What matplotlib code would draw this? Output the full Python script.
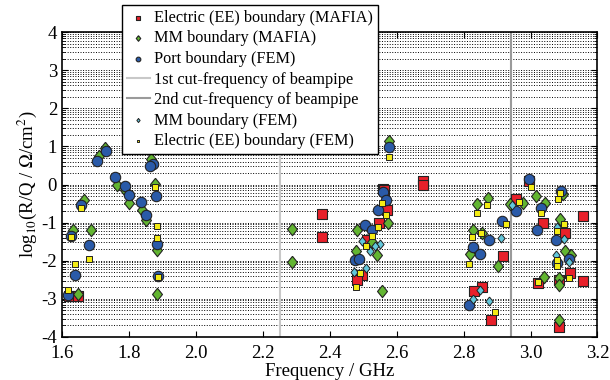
import numpy as np
import matplotlib
matplotlib.use('Agg')
import matplotlib.pyplot as plt
from matplotlib.ticker import FixedLocator, MultipleLocator

plt.rcParams['font.family'] = ['Liberation Serif', 'DejaVu Serif']
plt.rcParams['mathtext.fontset'] = 'stix'
plt.rcParams['axes.unicode_minus'] = False

# Electric (EE) boundary (MAFIA)
ee_mafia_x = [1.622, 1.648, 2.376, 2.376, 2.56, 2.562, 2.572, 2.548, 2.51, 2.495, 2.482,
              2.68, 2.68, 2.958, 2.996, 3.158, 3.036, 2.917, 3.118, 3.158, 3.023,
              2.854, 2.831, 2.881, 3.085, 3.103, 3.085]
ee_mafia_y = [-2.92, -2.92, -0.77, -1.38, -0.11, -0.15, -0.68, -1.01, -1.45, -2.37, -2.51,
              0.10, -0.02, -0.37, 0.10, -0.84, -1.01, -1.87, -2.32, -2.54, -2.58,
              -2.69, -2.80, -3.57, -3.75, -1.27, -2.52]

# MM boundary (MAFIA)
mm_mafia_x = [1.73, 1.71, 1.867, 1.764, 1.787, 1.799, 1.838, 1.852, 1.879, 1.665, 1.634,
              1.686, 1.884, 1.649, 1.884,
              2.287, 2.287, 2.578, 2.575, 2.48, 2.478, 2.542, 2.557, 2.525,
              2.874, 2.841, 2.938, 2.978, 3.015, 3.043, 3.098, 3.088, 2.827, 2.854,
              2.819, 2.904, 3.103, 3.12, 3.04, 3.085, 3.085, 3.085]
mm_mafia_y = [0.95, 0.74, 0.68, -0.02, -0.15, -0.49, -0.68, -0.94, 0.02, -0.42, -1.2,
              -1.2, -1.73, -2.87, -2.87,
              -1.17, -2.04, 1.14, -1.01, -1.20, -1.75, -1.86, -2.81, -1.51,
              -0.35, -0.52, -0.50, -0.49, -0.30, -0.49, -0.26, -0.90, -1.20, -1.27,
              -1.82, -2.15, -1.75, -1.86, -2.43, -2.45, -2.65, -3.55]

# Port boundary (FEM)
port_fem_x = [1.732, 1.705, 1.871, 1.864, 1.759, 1.787, 1.799, 1.836, 1.852, 1.881, 1.657,
              1.626, 1.681, 1.885, 1.639, 1.887, 1.619,
              2.578, 2.558, 2.568, 2.543, 2.505, 2.525, 2.475, 2.488,
              2.996, 3.09, 2.958, 3.03, 2.916, 3.02, 2.877, 3.076, 2.829, 2.849,
              3.078, 3.116, 2.817]
port_fem_y = [0.89, 0.62, 0.55, 0.48, 0.20, -0.04, -0.28, -0.46, -0.81, -0.31, -0.55,
              -1.36, -1.60, -1.56, -2.39, -2.41, -2.90,
              0.99, -0.20, -0.40, -0.66, -1.07, -1.20, -1.99, -1.97,
              0.14, -0.18, -0.70, -0.63, -0.97, -1.20, -1.47, -1.47, -1.64, -1.83,
              -2.06, -1.95, -3.16]

# cut-off frequencies of beampipe
cut1_freq = 2.251
cut2_freq = 2.942

# MM boundary (FEM)
mm_fem_x = [2.495, 2.55, 2.535, 2.52, 2.507, 2.473,
            2.912, 3.078, 3.1, 3.116, 2.946, 2.829, 2.849, 2.877, 3.076]
mm_fem_y = [-1.49, -1.57, -1.62, -1.76, -2.2, -2.30,
            -1.40, -1.12, -1.42, -2.04, -0.55, -3.0, -2.78, -3.06, -1.86]

# Electric (EE) boundary (FEM)
ee_fem_x = [1.879, 1.658, 1.627, 1.883, 1.883, 1.681, 1.639, 1.887, 1.619,
            2.578, 2.557, 2.567, 2.543, 2.525, 2.507, 2.49, 2.477,
            3.001, 3.088, 3.083, 2.965, 2.869, 2.839, 3.031, 2.927, 3.1, 3.078,
            2.852, 2.826, 2.816, 3.078, 3.078, 3.116, 3.023, 2.894]
ee_fem_y = [-0.07, -0.62, -1.37, -1.09, -1.40, -1.95, -2.08, -2.43, -2.78,
            0.73, -0.49, -0.80, -1.12, -1.35, -1.62, -2.33, -2.69,
            -0.07, -0.22, -0.37, -0.46, -0.55, -0.74, -0.75, -1.05, -1.05, -1.22,
            -1.27, -1.38, -2.08, -1.99, -2.14, -2.46, -2.56, -3.35]

diamond = [(0, 1), (0.8, 0), (0, -1), (-0.8, 0), (0, 1)]
edge = '#222222'

fig = plt.figure(figsize=(6.1, 3.8), dpi=100)
ax = fig.add_axes([0.1016, 0.1139, 0.8779, 0.8011])

ax.scatter(ee_mafia_x, ee_mafia_y, marker='s', s=46, c='#e8202a', edgecolors=edge,
           linewidths=0.8, zorder=3, label='Electric (EE) boundary (MAFIA)')
ax.scatter(mm_mafia_x, mm_mafia_y, marker=diamond, s=80, c='#62b531', edgecolors=edge,
           linewidths=0.8, zorder=4, label='MM boundary (MAFIA)')
ax.scatter(port_fem_x, port_fem_y, marker='o', s=56, c='#2a5aa8', edgecolors=edge,
           linewidths=0.8, zorder=5, label='Port boundary (FEM)')
ax.axvline(cut1_freq, color='#c8c8c8', lw=1.5, zorder=2, label='1st cut-frequency of beampipe')
ax.axvline(cut2_freq, color='#9a9a9a', lw=1.5, zorder=2, label='2nd cut-frequency of beampipe')
ax.scatter(mm_fem_x, mm_fem_y, marker=diamond, s=42, c='#62c8dc', edgecolors=edge,
           linewidths=0.7, zorder=6, label='MM boundary (FEM)')
ax.scatter(ee_fem_x, ee_fem_y, marker='s', s=22, c='#f4ec14', edgecolors=edge,
           linewidths=0.7, zorder=7, label='Electric (EE) boundary (FEM)')

ax.set_xlim(1.6, 3.2)
ax.set_ylim(-4, 4)
ax.xaxis.set_major_locator(MultipleLocator(0.2))
ax.yaxis.set_major_locator(MultipleLocator(1))
ax.set_xticklabels([f'{v:.1f}' for v in ax.get_xticks()])
minor = [n + np.log10(k) for n in range(-4, 4) for k in range(2, 10)]
ax.yaxis.set_minor_locator(FixedLocator(minor))
ax.grid(axis='y', which='both', linestyle=':', color='black', linewidth=0.7, zorder=1)
ax.tick_params(which='both', direction='in', top=True, right=True, labelsize=13.5)
ax.tick_params(axis='x', pad=6)
ax.tick_params(which='major', length=4)
ax.tick_params(which='minor', length=2)
for sp in ax.spines.values():
    sp.set_linewidth(1.2)

ax.set_xlabel('Frequency / GHz', fontsize=13.5, labelpad=1)
ax.set_ylabel(r'log$_{10}$(R/Q / $\Omega$/cm$^2$)', fontsize=13.5, labelpad=2)

leg = ax.legend(loc='upper left', bbox_to_anchor=(122 / 610, 1 - 5 / 380),
                bbox_transform=fig.transFigure, fontsize=11.7, markerscale=0.45,
                handlelength=1.4, handletextpad=0.3, labelspacing=0.28,
                borderpad=0.3, borderaxespad=0, fancybox=False, framealpha=1,
                edgecolor='black')
leg.get_frame().set_linewidth(1.0)
leg.set_zorder(10)

fig.savefig('out.png', dpi=100)
